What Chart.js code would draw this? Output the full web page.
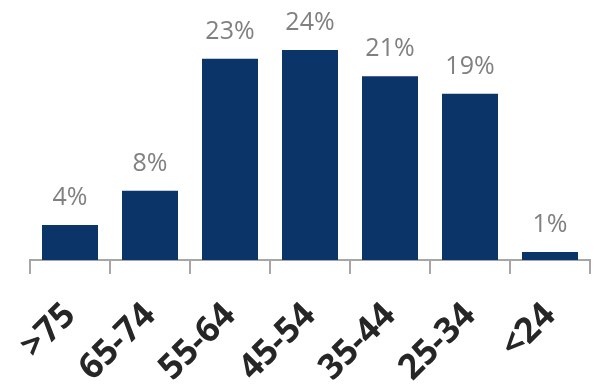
<!DOCTYPE html>
<html>
<head>
<meta charset="utf-8">
<script src="https://cdn.jsdelivr.net/npm/chart.js@4/dist/chart.umd.min.js"></script>
<style>
  html, body { margin: 0; padding: 0; background: #fff; }
  #wrap { width: 596px; height: 385px; }
</style>
</head>
<body>
<div id="wrap"><canvas id="chart" width="596" height="385"></canvas></div>
<script>
// age groups and share of respondents (%)
var categorias = [">75", "65-74", "55-64", "45-54", "35-44", "25-34", "<24"];
var valores = [4, 7.9, 23, 24, 21, 19, 0.9];

// rotulos de valor acima das barras
var rotulosValor = {
    id: 'rotulosValor',
    afterDatasetsDraw: function(chart) {
        var ctx = chart.ctx;
        var meta = chart.getDatasetMeta(0);
        ctx.save();
        ctx.fillStyle = '#808080';
        ctx.font = '25px "Open Sans"';
        ctx.textAlign = 'center';
        ctx.textBaseline = 'alphabetic';
        meta.data.forEach(function(bar, i) {
            ctx.fillText(Math.round(valores[i]) + '%', bar.x, bar.y - 20);
        });
        ctx.restore();
    }
};

var dados = {
    labels: categorias,
    datasets: [{
        data: valores,
        backgroundColor: '#0b3468',
        borderWidth: 0,
        barPercentage: 0.7,
        categoryPercentage: 1.0
    }]
};

var opcoes = {
    responsive: false,
    animation: false,
    layout: { padding: { left: 30, right: 6, top: 0, bottom: 0 } },
    plugins: {
        legend: { display: false },
        tooltip: { enabled: false }
    },
    scales: {
        x: {
            afterFit: function(scale) {
                scale.height = 125;
                scale.paddingLeft = 0;
                scale.paddingRight = 0;
            },
            grid: {
                drawOnChartArea: false,
                drawTicks: true,
                tickLength: 14,
                color: '#a6a6a6',
                lineWidth: 2,
                offset: true
            },
            border: { display: true, color: '#a6a6a6', width: 2 },
            ticks: {
                autoSkip: false,
                maxRotation: 45,
                minRotation: 45,
                padding: 21,
                color: '#262626',
                font: { family: '"Open Sans"', size: 35, weight: 'bold' }
            }
        },
        y: {
            display: false,
            min: 0,
            max: 29.7
        }
    }
};

var ctx = document.getElementById('chart').getContext('2d');
var myChart = new Chart(ctx, {
    type: 'bar',
    data: dados,
    options: opcoes,
    plugins: [rotulosValor]
});
</script>
</body>
</html>
